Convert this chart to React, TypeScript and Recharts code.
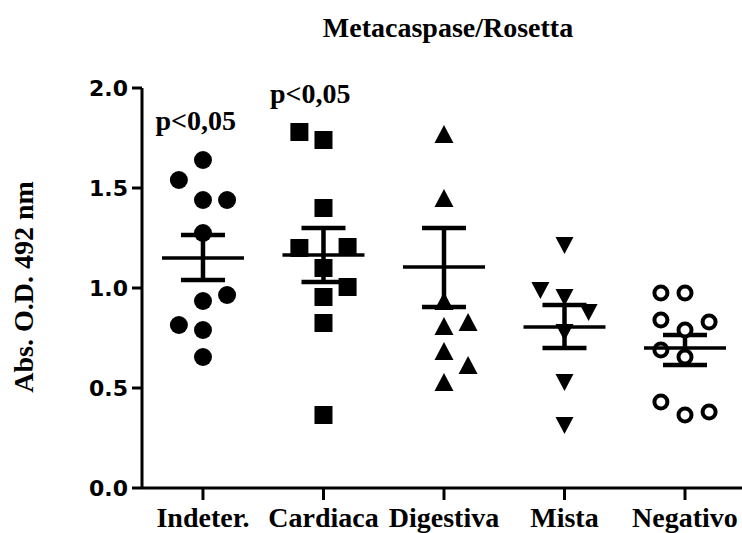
import { ScatterChart, Scatter, XAxis, YAxis, ErrorBar } from 'recharts';

const categories = ['Indeter.', 'Cardiaca', 'Digestiva', 'Mista', 'Negativo'];

// individual values per group, and the column slot each point sits in (-1 left, 0 centre, 1 right)
const indeter = [1.64, 1.54, 1.44, 1.44, 1.275, 0.965, 0.935, 0.815, 0.79, 0.655];
const indeterCol = [0, -1, 0, 1, 0, 1, 0, -1, 0, 0];
const cardiaca = [1.78, 1.74, 1.4, 1.2, 1.205, 1.1, 1.005, 0.955, 0.825, 0.365];
const cardiacaCol = [-1, 0, 0, -1, 1, 0, 1, 0, 0, 0];
const digestiva = [1.765, 1.445, 0.93, 0.805, 0.825, 0.68, 0.61, 0.525];
const digestivaCol = [0, 0, 0, 0, 1, 0, 1, 0];
const mista = [1.215, 0.99, 0.955, 0.88, 0.78, 0.53, 0.315];
const mistaCol = [0, -1, 0, 1, 0, 0, 0];
const negativo = [0.975, 0.975, 0.84, 0.83, 0.79, 0.69, 0.655, 0.43, 0.365, 0.38];
const negativoCol = [-1, 0, -1, 1, 0, -1, 0, -1, 0, 1];

// mean and SEM bounds
const means = [1.15, 1.165, 1.105, 0.805, 0.7];
const semHigh = [1.265, 1.3, 1.3, 0.915, 0.765];
const semLow = [1.04, 1.03, 0.905, 0.7, 0.615];

const annotations = [
    { x: -0.06, y: 1.79, text: 'p<0,05' },
    { x: 0.89, y: 1.925, text: 'p<0,05' },
];

const yTicks = [0, 0.5, 1, 1.5, 2];

const SLOT = 0.2;
const SERIF = '"Liberation Serif", "Times New Roman", serif';
const SANS = '"DejaVu Sans", Verdana, sans-serif';

const toPoints = (vals: number[], cols: number[], cat: number) =>
    vals.map((v, i) => ({ x: cat + cols[i] * SLOT, y: v }));

const meanData = means.map((m, i) => ({
    x: i,
    y: m,
    sem: [m - semLow[i], semHigh[i] - m],
}));

const Dot = (p: any) => <circle cx={p.cx} cy={p.cy} r={9} fill="#000" />;
const Square = (p: any) => <rect x={p.cx - 9} y={p.cy - 9} width={18} height={18} fill="#000" />;
const TriUp = (p: any) => (
    <polygon points={`${p.cx},${p.cy - 10} ${p.cx + 9.5},${p.cy + 8} ${p.cx - 9.5},${p.cy + 8}`} fill="#000" />
);
const TriDown = (p: any) => (
    <polygon points={`${p.cx},${p.cy + 9} ${p.cx + 9},${p.cy - 8} ${p.cx - 9},${p.cy - 8}`} fill="#000" />
);
const Ring = (p: any) => <circle cx={p.cx} cy={p.cy} r={6.5} fill="#fff" stroke="#000" strokeWidth={4} />;
const MeanLine = (p: any) => (
    <line x1={p.cx - 41} x2={p.cx + 41} y1={p.cy} y2={p.cy} stroke="#000" strokeWidth={3.5} />
);
const Note = (p: any) => (
    <text x={p.cx} y={p.cy} textAnchor="middle" fontFamily={SERIF} fontWeight="bold" fontSize={28} fill="#000">
        {p.payload.text}
    </text>
);

export default function App() {
    return (
        <div style={{ position: 'absolute', left: 0, top: 0, width: 742, height: 533, background: '#fff' }}>
            <ScatterChart width={742} height={533} margin={{ top: 88, right: 0, bottom: 0, left: 0 }}>
                <XAxis
                    type="number"
                    dataKey="x"
                    domain={[-0.506, 4.473]}
                    allowDataOverflow
                    ticks={[0, 1, 2, 3, 4]}
                    tickFormatter={(v: number) => categories[v] ?? ''}
                    height={45}
                    tickSize={12}
                    tickMargin={7}
                    axisLine={{ stroke: '#000', strokeWidth: 3 }}
                    tickLine={{ stroke: '#000', strokeWidth: 3 }}
                    tick={{ fontFamily: SERIF, fontWeight: 'bold', fontSize: 28, fill: '#000' }}
                    interval={0}
                />
                <YAxis
                    type="number"
                    dataKey="y"
                    domain={[0, 2]}
                    ticks={yTicks}
                    tickFormatter={(v: number) => v.toFixed(1)}
                    width={142}
                    tickSize={10}
                    tickMargin={4}
                    axisLine={{ stroke: '#000', strokeWidth: 3 }}
                    tickLine={{ stroke: '#000', strokeWidth: 3 }}
                    tick={{ fontFamily: SANS, fontWeight: 'bold', fontSize: 22, fill: '#000' }}
                    interval={0}
                />
                <Scatter data={toPoints(indeter, indeterCol, 0)} shape={Dot} isAnimationActive={false} />
                <Scatter data={toPoints(cardiaca, cardiacaCol, 1)} shape={Square} isAnimationActive={false} />
                <Scatter data={toPoints(digestiva, digestivaCol, 2)} shape={TriUp} isAnimationActive={false} />
                <Scatter data={toPoints(mista, mistaCol, 3)} shape={TriDown} isAnimationActive={false} />
                <Scatter data={toPoints(negativo, negativoCol, 4)} shape={Ring} isAnimationActive={false} />
                <Scatter data={meanData} shape={MeanLine} isAnimationActive={false}>
                    <ErrorBar dataKey="sem" direction="y" width={22} stroke="#000" strokeWidth={4.5} isAnimationActive={false} />
                </Scatter>
                <Scatter data={annotations} shape={Note} isAnimationActive={false} />
            </ScatterChart>
            <svg width={742} height={533} style={{ position: 'absolute', left: 0, top: 0, pointerEvents: 'none' }}>
                <text x={448} y={37} textAnchor="middle" fontFamily={SERIF} fontWeight="bold" fontSize={28} fill="#000">
                    Metacaspase/Rosetta
                </text>
                <text
                    transform="translate(33,287) rotate(-90)"
                    textAnchor="middle"
                    fontFamily={SERIF}
                    fontWeight="bold"
                    fontSize={28}
                    fill="#000"
                >
                    Abs. O.D. 492 nm
                </text>
            </svg>
        </div>
    );
}
